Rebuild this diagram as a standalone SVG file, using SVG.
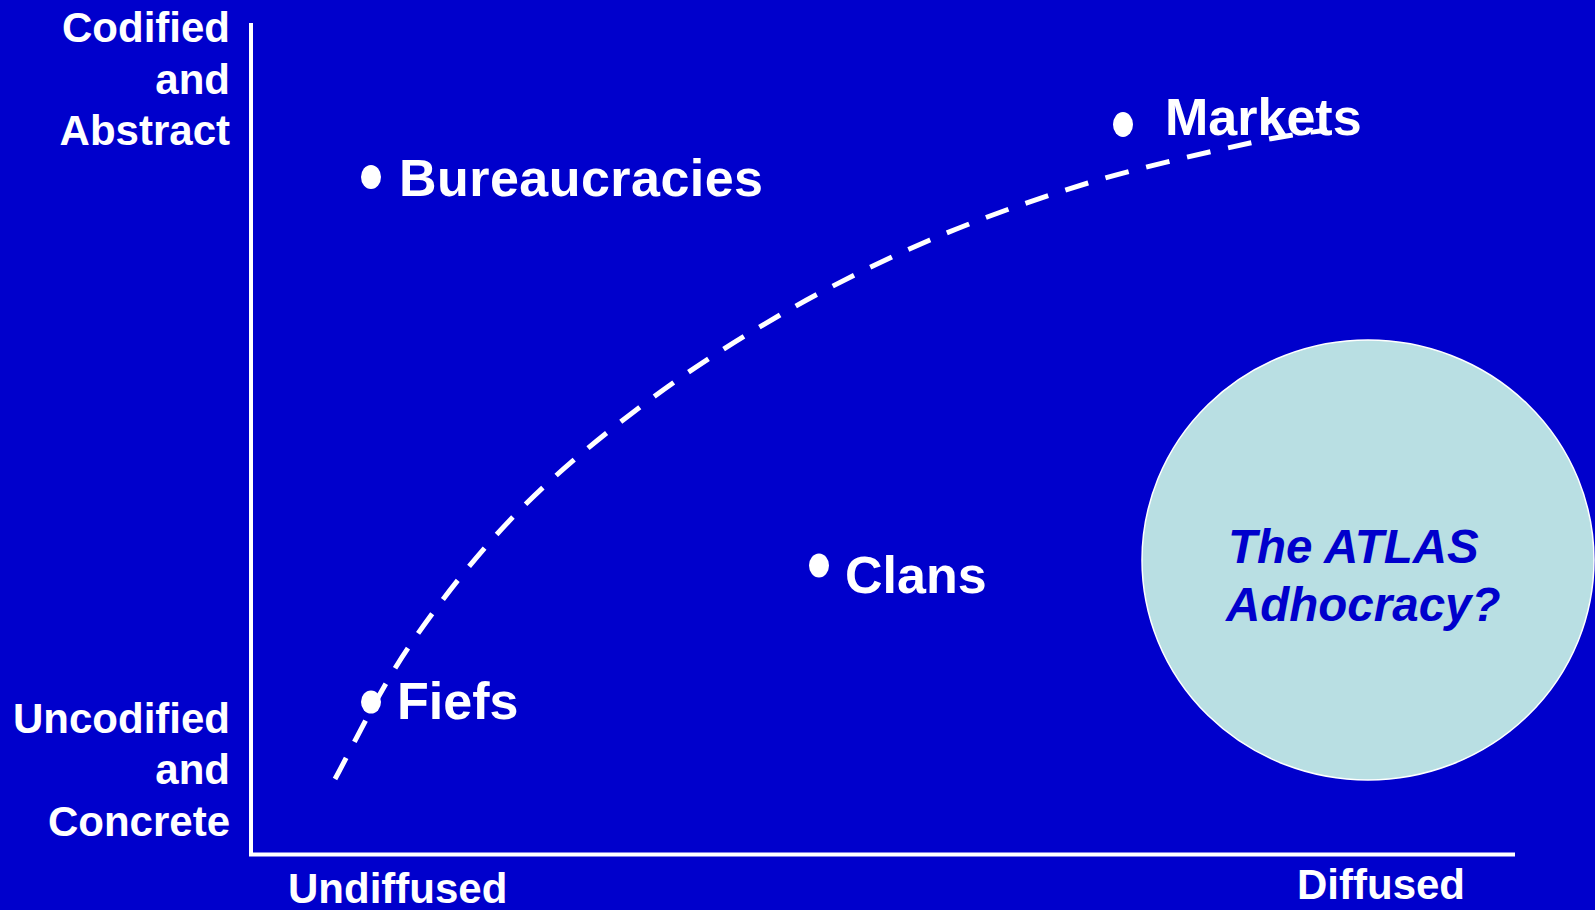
<svg xmlns="http://www.w3.org/2000/svg" width="1595" height="910" viewBox="0 0 1595 910">
  <style>
    .lbl { font-family: "Liberation Sans", Arial, sans-serif; font-weight: bold; fill: #FFFFFF; }
    .axis { font-size: 42px; }
    .node { font-size: 52px; }
    .dot { fill: #FFFFFF; }
    .circ { font-family: "Liberation Sans", Arial, sans-serif; font-weight: bold; font-style: italic; font-size: 47.5px; fill: #0000CC; }
  </style>
  <rect x="0" y="0" width="1595" height="910" fill="#0000CC"/>

  <g id="axes">
    <line x1="251" y1="23" x2="251" y2="856" stroke="#FFFFFF" stroke-width="4"/>
    <line x1="249" y1="854.5" x2="1515" y2="854.5" stroke="#FFFFFF" stroke-width="4"/>
  </g>

  <g id="axis-labels">
    <text class="lbl axis" text-anchor="end" x="230" y="42">Codified</text>
    <text class="lbl axis" text-anchor="end" x="230" y="94">and</text>
    <text class="lbl axis" text-anchor="end" x="230" y="145">Abstract</text>
    <text class="lbl axis" text-anchor="end" x="230" y="733">Uncodified</text>
    <text class="lbl axis" text-anchor="end" x="230" y="784">and</text>
    <text class="lbl axis" text-anchor="end" x="230" y="836">Concrete</text>
    <text class="lbl axis" x="288" y="903">Undiffused</text>
    <text class="lbl axis" x="1297" y="899">Diffused</text>
  </g>

  <g id="adhocracy">
    <ellipse cx="1368" cy="560" rx="226" ry="220" fill="#B9DFE3" stroke="#FFFFFF" stroke-width="1.5"/>
    <text class="circ" x="1228" y="563">The ATLAS</text>
    <text class="circ" x="1226" y="621">Adhocracy?</text>
  </g>

  <g id="connectors">
    <path d="M335,779 C347.2,757.2 378.3,691.7 408,648 C437.7,604.3 474.3,557.2 513,517 C551.7,476.8 595.5,440.7 640,407 C684.5,373.3 731.7,342.8 780,315 C828.3,287.2 878.7,262 930,240 C981.3,218 1034.7,199.2 1088,183 C1141.3,166.8 1210.2,151.8 1250,143 C1289.8,134.2 1314.2,132.2 1327,130" fill="none" stroke="#FFFFFF" stroke-width="5" stroke-dasharray="24 18"/>
  </g>

  <g id="bureaucracies">
    <ellipse class="dot" cx="371" cy="177" rx="10" ry="12"/>
    <text class="lbl node" x="399" y="196" textLength="364" lengthAdjust="spacing">Bureaucracies</text>
  </g>
  <g id="markets">
    <ellipse class="dot" cx="1123" cy="124.5" rx="10" ry="12.5"/>
    <text class="lbl node" x="1165" y="135">Markets</text>
  </g>
  <g id="clans">
    <ellipse class="dot" cx="819" cy="565.5" rx="10" ry="12"/>
    <text class="lbl node" x="845" y="593">Clans</text>
  </g>
  <g id="fiefs">
    <ellipse class="dot" cx="371" cy="702" rx="10" ry="11.5"/>
    <text class="lbl node" x="397" y="719">Fiefs</text>
  </g>
</svg>
